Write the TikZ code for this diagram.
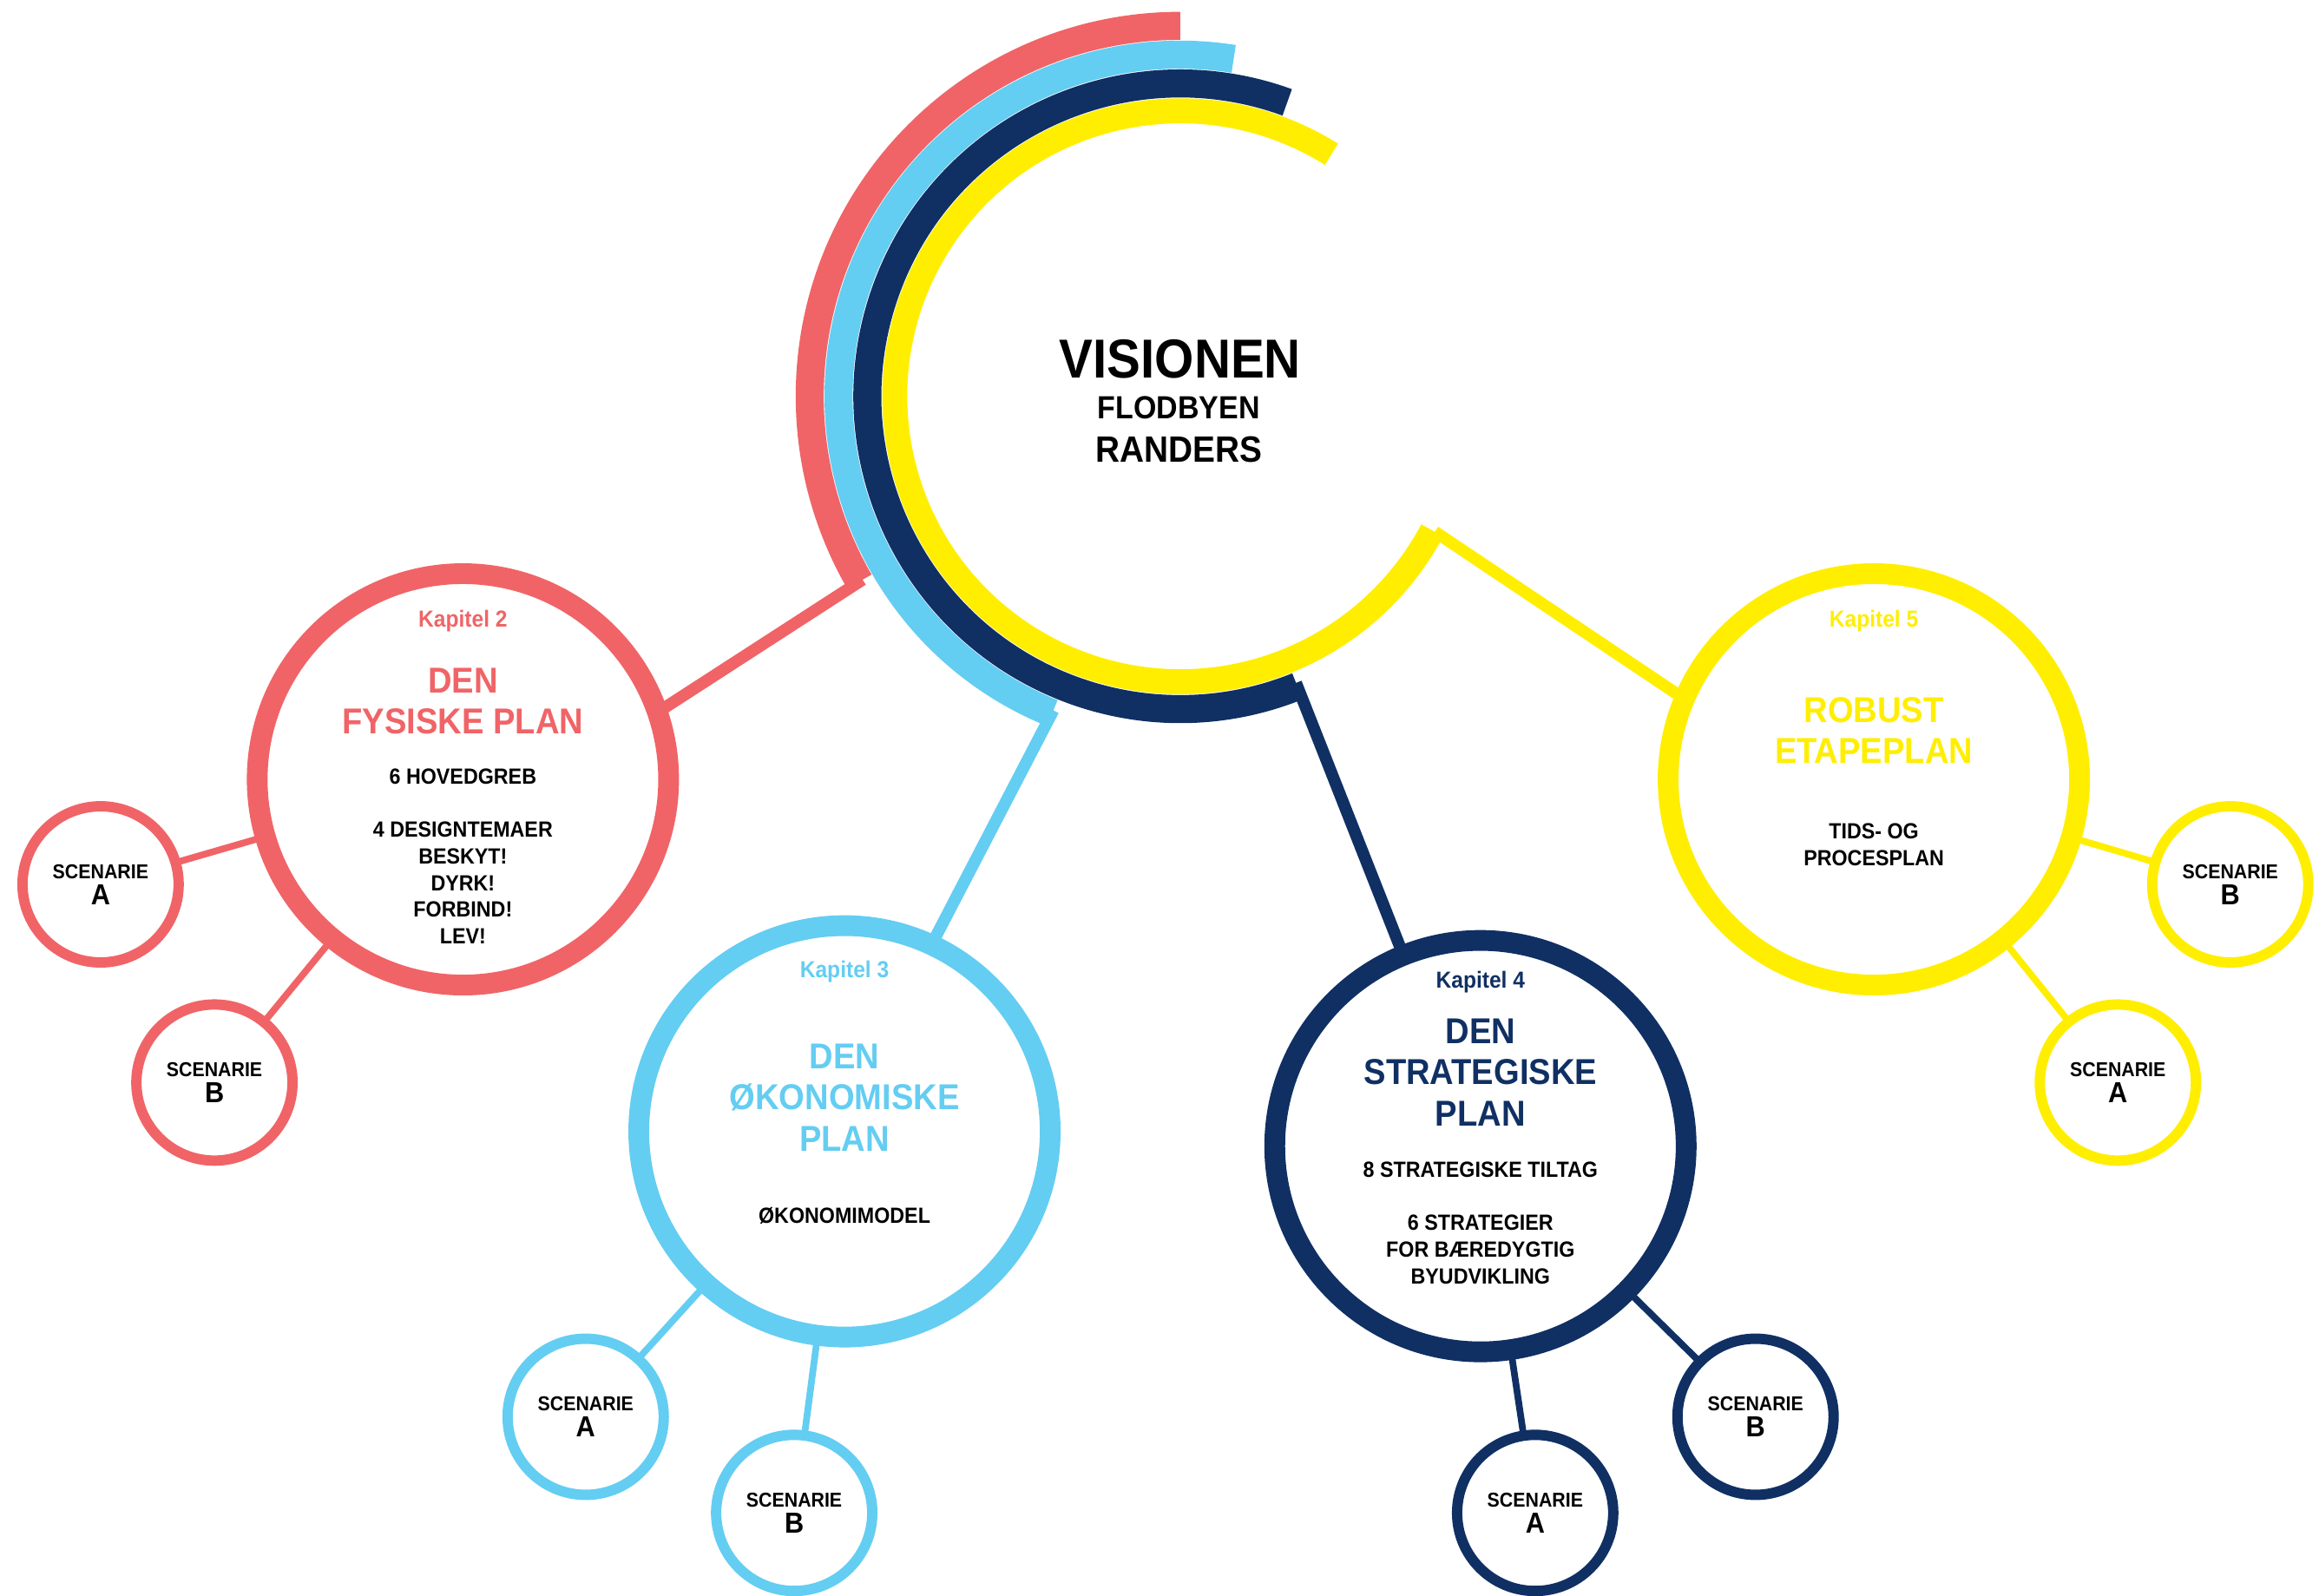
\documentclass[tikz,border=0pt]{standalone}
\usepackage{fontspec}
\setmainfont{Liberation Sans}[FakeStretch=0.92]
\usetikzlibrary{calc,positioning}
\definecolor{kred}{RGB}{240,100,103}
\definecolor{kblue}{RGB}{100,205,242}
\definecolor{knavy}{RGB}{16,48,100}
\definecolor{kyellow}{RGB}{255,238,0}
\newcommand{\bigletter}[1]{{\fontsize{9.5}{9.5}\selectfont #1}}

\begin{document}
\begin{tikzpicture}[x=0.01704cm, y=0.01704cm, font=\bfseries,
  band/.style={line width=#1},
  kapitel/.style={circle, draw=#1, line width=6.8pt, minimum size=134.9pt, inner sep=0pt, outer sep=0pt},
  scenarie/.style={circle, draw=#1, line width=3.4pt, minimum size=51.2pt, inner sep=0pt, outer sep=0pt, align=center, font=\bfseries\fontsize{6.6}{7}\selectfont},
  arm/.style={draw=#1, line width=3.9pt},
  twig/.style={draw=#1, line width=2.2pt},
  chap/.style={text=#1, font=\bfseries\fontsize{7.6}{9}\selectfont},
  title/.style={text=#1, align=center, font=\bfseries\fontsize{11.8}{13.5}\selectfont},
  body/.style={align=center, font=\bfseries\fontsize{7.2}{8.7}\selectfont}]
\useasboundingbox (0,0) rectangle (1568,1079);
\coordinate (C) at (798,811);
\draw[kred, band=9.2pt] ($(C)+(90:250.5)$) arc[start angle=90, end angle=210, radius=250.5];
\draw[kblue, band=9.2pt] ($(C)+(81:231)$) arc[start angle=81, end angle=248, radius=231];
\draw[knavy, band=9.2pt] ($(C)+(70:211.5)$) arc[start angle=70, end angle=292, radius=211.5];
\draw[kyellow, band=8.2pt] ($(C)+(58:193)$) arc[start angle=58, end angle=332, radius=193];
\coordinate (redend) at ($(C)+(210:248)$);
\coordinate (blueend) at ($(C)+(248:229)$);
\coordinate (navyend) at ($(C)+(292:209)$);
\coordinate (yellowend) at ($(C)+(332:195)$);
\node (vis) at (798,836) {\fontsize{18}{18}\selectfont VISIONEN};
\node (flod) at (797,803) {\fontsize{10.5}{10.5}\selectfont FLODBYEN};
\node (rand) at (797,775) {\fontsize{12}{12}\selectfont RANDERS};

\node[kapitel=kred] (k2) at (313,552) {};
\node[kapitel=kblue] (k3) at (571,314) {};
\node[kapitel=knavy] (k4) at (1001,304) {};
\node[kapitel=kyellow] (k5) at (1267,552) {};

\draw[arm=kred] (redend) -- (k2.19);
\draw[arm=kblue] (blueend) -- (k3.65);
\draw[arm=knavy] (navyend) -- (k4.112);
\draw[arm=kyellow] (yellowend) -- (k5.157);

\node[chap=kred] (k2k) at ($(k2)+(0,107)$) {Kapitel 2};
\node[title=kred] (k2t) at ($(k2)+(0,53)$) {DEN\\FYSISKE PLAN};
\node[body] (k2b) at ($(k2)+(0,-52)$) {6 HOVEDGREB\\[8.7pt]4 DESIGNTEMAER\\BESKYT!\\DYRK!\\FORBIND!\\LEV!};
\node[chap=kblue] (k3k) at ($(k3)+(0,108)$) {Kapitel 3};
\node[title=kblue] (k3t) at ($(k3)+(0,23)$) {DEN\\ØKONOMISKE\\PLAN};
\node[body] (k3b) at ($(k3)+(0,-57)$) {ØKONOMIMODEL};
\node[chap=knavy] (k4k) at ($(k4)+(0,111)$) {Kapitel 4};
\node[title=knavy] (k4t) at ($(k4)+(0,50)$) {DEN\\STRATEGISKE\\PLAN};
\node[body] (k4b) at ($(k4)+(0,-52)$) {8 STRATEGISKE TILTAG\\[8.7pt]6 STRATEGIER\\FOR BÆREDYGTIG\\BYUDVIKLING};
\node[chap=kyellow] (k5k) at ($(k5)+(0,107)$) {Kapitel 5};
\node[title=kyellow] (k5t) at ($(k5)+(0,33)$) {ROBUST\\ETAPEPLAN};
\node[body] (k5b) at ($(k5)+(0,-44)$) {TIDS- OG\\PROCESPLAN};

\node[scenarie=kred] (k2sa) at (68,481) {SCENARIE\\[1.6pt]\bigletter{A}};
\node[scenarie=kred] (k2sb) at (145,347) {SCENARIE\\[1.6pt]\bigletter{B}};
\node[scenarie=kblue] (k3sa) at (396,121) {SCENARIE\\[1.6pt]\bigletter{A}};
\node[scenarie=kblue] (k3sb) at (537,56) {SCENARIE\\[1.6pt]\bigletter{B}};
\node[scenarie=knavy] (k4sa) at (1038,56) {SCENARIE\\[1.6pt]\bigletter{A}};
\node[scenarie=knavy] (k4sb) at (1187,121) {SCENARIE\\[1.6pt]\bigletter{B}};
\node[scenarie=kyellow] (k5sb) at (1508,481) {SCENARIE\\[1.6pt]\bigletter{B}};
\node[scenarie=kyellow] (k5sa) at (1432,347) {SCENARIE\\[1.6pt]\bigletter{A}};

\draw[twig=kred] (k2) -- (k2sa);
\draw[twig=kred] (k2) -- (k2sb);
\draw[twig=kblue] (k3) -- (k3sa);
\draw[twig=kblue] (k3) -- (k3sb);
\draw[twig=knavy] (k4) -- (k4sa);
\draw[twig=knavy] (k4) -- (k4sb);
\draw[twig=kyellow] (k5) -- (k5sb);
\draw[twig=kyellow] (k5) -- (k5sa);
\end{tikzpicture}
\end{document}
